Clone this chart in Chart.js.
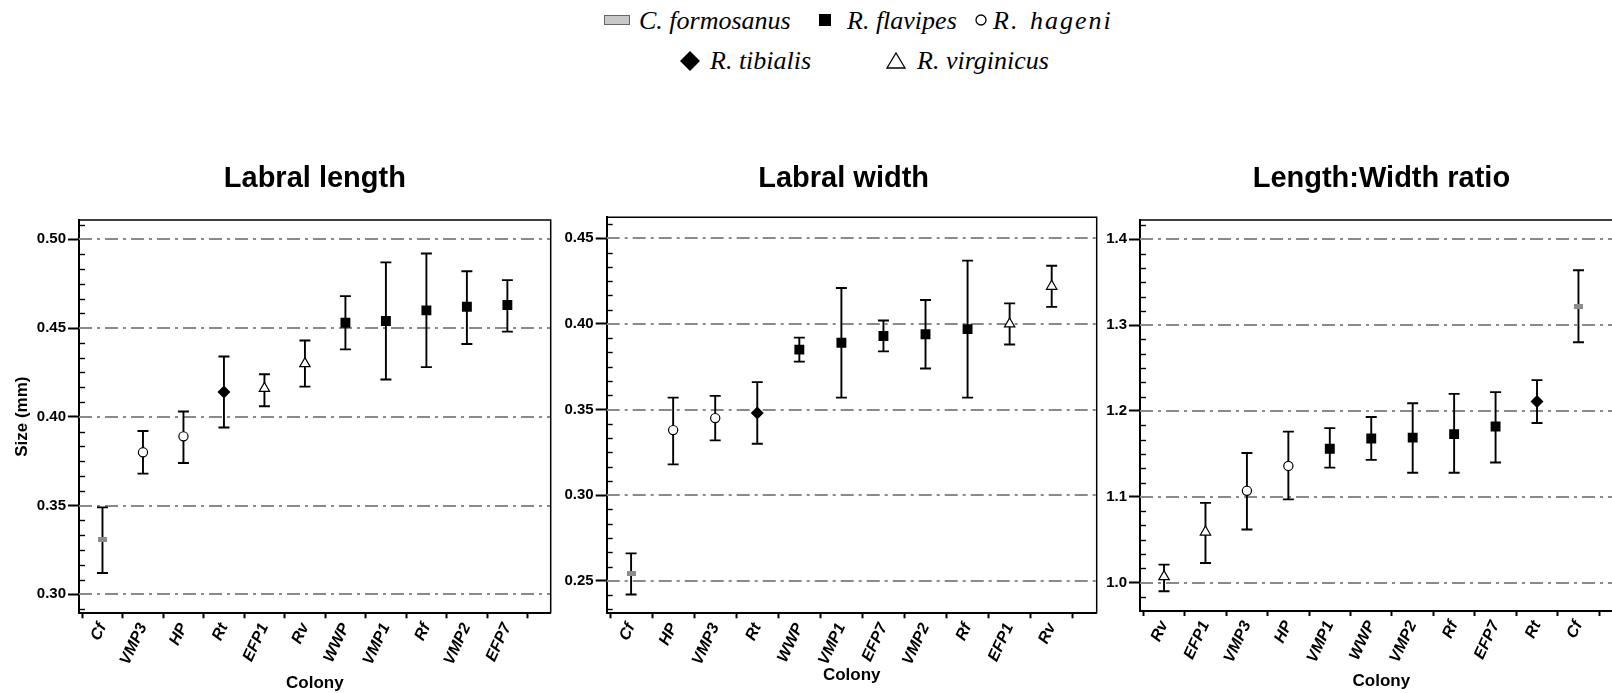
<!DOCTYPE html>
<html>
<head>
<meta charset="utf-8">
<script src="https://cdn.jsdelivr.net/npm/chart.js@4.4.1/dist/chart.umd.min.js"></script>
<style>
html,body{margin:0;padding:0;background:#fff;width:1612px;height:693px;overflow:hidden;position:relative}
canvas.panel{position:absolute;top:0}
.lg{position:absolute;font-family:"Liberation Serif","Times New Roman",serif;font-style:italic;font-size:26px;line-height:26px;white-space:nowrap;color:#000}
svg.sym{position:absolute;overflow:visible}
</style>
</head>
<body>
<svg class="sym" style="left:604px;top:15px" width="26" height="10"><rect x="0.5" y="0.5" width="25" height="9" fill="#c8c8c8" stroke="#666" stroke-width="1"/></svg>
<div class="lg" style="left:639px;top:8px">C. formosanus</div>
<svg class="sym" style="left:819px;top:14px" width="12" height="12"><rect x="0" y="0" width="12" height="12" fill="#000"/></svg>
<div class="lg" style="left:847px;top:8px">R. flavipes</div>
<svg class="sym" style="left:975px;top:14px" width="12" height="12"><circle cx="6" cy="6" r="5" fill="#fff" stroke="#000" stroke-width="1.3"/></svg>
<div class="lg" style="left:993px;top:8px;letter-spacing:2px;word-spacing:2px">R. hageni</div>
<svg class="sym" style="left:680px;top:51px" width="20" height="20"><polygon points="10,0 20,10 10,20 0,10" fill="#000"/></svg>
<div class="lg" style="left:710px;top:48px">R. tibialis</div>
<svg class="sym" style="left:886px;top:52px" width="20" height="17"><polygon points="10,1 19,16 1,16" fill="#fff" stroke="#000" stroke-width="1.3"/></svg>
<div class="lg" style="left:917px;top:48px">R. virginicus</div>

<canvas class="panel" id="c1" width="600" height="693" style="left:0px"></canvas>
<canvas class="panel" id="c2" width="560" height="693" style="left:560px"></canvas>
<canvas class="panel" id="c3" width="530" height="693" style="left:1100px"></canvas>

<script>
// ---------- data ----------
const speciesNames = ['C. formosanus', 'R. flavipes', 'R. hageni', 'R. tibialis', 'R. virginicus'];
const colonySpecies = {Cf: 0, Rf: 1, VMP1: 1, VMP2: 1, WWP: 1, EFP7: 1, HP: 2, VMP3: 2, Rt: 3, Rv: 4, EFP1: 4};

// Panel 1: Labral length
const colonies1 = ['Cf', 'VMP3', 'HP', 'Rt', 'EFP1', 'Rv', 'WWP', 'VMP1', 'Rf', 'VMP2', 'EFP7'];
const mean1 = [0.331, 0.380, 0.389, 0.414, 0.416, 0.430, 0.453, 0.454, 0.460, 0.462, 0.463];
const low1  = [0.312, 0.368, 0.374, 0.394, 0.406, 0.417, 0.438, 0.421, 0.428, 0.441, 0.448];
const high1 = [0.349, 0.392, 0.403, 0.434, 0.424, 0.443, 0.468, 0.487, 0.492, 0.482, 0.477];
const yTicks1 = [0.30, 0.35, 0.40, 0.45, 0.50];

// Panel 2: Labral width
const colonies2 = ['Cf', 'HP', 'VMP3', 'Rt', 'WWP', 'VMP1', 'EFP7', 'VMP2', 'Rf', 'EFP1', 'Rv'];
const mean2 = [0.254, 0.338, 0.345, 0.348, 0.385, 0.389, 0.393, 0.394, 0.397, 0.400, 0.422];
const low2  = [0.242, 0.318, 0.332, 0.330, 0.378, 0.357, 0.384, 0.374, 0.357, 0.388, 0.410];
const high2 = [0.266, 0.357, 0.358, 0.366, 0.392, 0.421, 0.402, 0.414, 0.437, 0.412, 0.434];
const yTicks2 = [0.25, 0.30, 0.35, 0.40, 0.45];

// Panel 3: Length:Width ratio
const colonies3 = ['Rv', 'EFP1', 'VMP3', 'HP', 'VMP1', 'WWP', 'VMP2', 'Rf', 'EFP7', 'Rt', 'Cf'];
const mean3 = [1.007, 1.059, 1.107, 1.136, 1.156, 1.168, 1.169, 1.173, 1.182, 1.211, 1.322];
const low3  = [0.990, 1.023, 1.062, 1.097, 1.134, 1.143, 1.128, 1.128, 1.140, 1.186, 1.280];
const high3 = [1.021, 1.093, 1.151, 1.176, 1.180, 1.193, 1.209, 1.220, 1.222, 1.236, 1.364];
const yTicks3 = [1.0, 1.1, 1.2, 1.3, 1.4];

// ---------- styling ----------
Chart.defaults.color = '#000';
Chart.defaults.font.family = "'Liberation Sans', Arial, sans-serif";

function grayRect() {
  const c = document.createElement('canvas');
  c.width = 9; c.height = 5;
  const g = c.getContext('2d');
  g.fillStyle = '#8c8c8c';
  g.fillRect(0, 0, 9, 5);
  return c;
}
const speciesStyle = [
  {pointStyle: grayRect(), pointRadius: 4, backgroundColor: '#8c8c8c', borderColor: '#8c8c8c', borderWidth: 0},
  {pointStyle: 'rect', pointRadius: 7, backgroundColor: '#000', borderColor: '#000', borderWidth: 0},
  {pointStyle: 'circle', pointRadius: 4.6, backgroundColor: '#fff', borderColor: '#000', borderWidth: 1.2},
  {pointStyle: 'rectRot', pointRadius: 6.5, backgroundColor: '#000', borderColor: '#000', borderWidth: 0},
  {pointStyle: 'triangle', pointRadius: 6, backgroundColor: '#fff', borderColor: '#000', borderWidth: 1.2}
];

function buildDatasets(cols, mean, low, high) {
  return speciesNames.map((name, s) => {
    const data = [];
    cols.forEach((c, i) => {
      if (colonySpecies[c] === s) data.push({x: i, y: mean[i], lo: low[i], hi: high[i]});
    });
    return Object.assign({label: name, data: data, showLine: false, pointHoverRadius: 0}, speciesStyle[s]);
  });
}

const panelPlugin = {
  id: 'panelDeco',
  beforeDatasetsDraw(chart) {
    const {ctx, chartArea: a, scales: {x, y}} = chart;
    ctx.save();
    // dash-dot grid at major ticks
    ctx.strokeStyle = '#8a8a8a';
    ctx.lineWidth = 2;
    ctx.setLineDash([13, 5, 3, 5]);
    y.ticks.forEach(t => {
      const py = Math.round(y.getPixelForValue(t.value));
      ctx.beginPath(); ctx.moveTo(a.left, py); ctx.lineTo(a.right, py); ctx.stroke();
    });
    ctx.setLineDash([]);
    // minor ticks inside the left axis
    const tv = y.ticks.map(t => t.value);
    const step = (tv[1] - tv[0]) / 6;
    ctx.strokeStyle = '#000';
    ctx.lineWidth = 1.4;
    for (let k = -6; k <= 6 * tv.length + 6; k++) {
      if (k % 6 === 0) continue;
      const v = tv[0] + k * step;
      if (v < y.min || v > y.max) continue;
      const py = Math.round(y.getPixelForValue(v)) + 0.5;
      ctx.beginPath(); ctx.moveTo(a.left, py); ctx.lineTo(a.left + 6, py); ctx.stroke();
    }
    // error bars
    ctx.strokeStyle = '#000';
    ctx.lineWidth = 1.9;
    chart.data.datasets.forEach(ds => ds.data.forEach(p => {
      const px = x.getPixelForValue(p.x);
      const y1 = y.getPixelForValue(p.lo);
      const y2 = y.getPixelForValue(p.hi);
      ctx.beginPath();
      ctx.moveTo(px, y1); ctx.lineTo(px, y2);
      ctx.moveTo(px - 5.5, y1); ctx.lineTo(px + 5.5, y1);
      ctx.moveTo(px - 5.5, y2); ctx.lineTo(px + 5.5, y2);
      ctx.stroke();
    }));
    ctx.restore();
  },
  afterDraw(chart) {
    const {ctx, chartArea: a} = chart;
    ctx.save();
    ctx.strokeStyle = '#000';
    ctx.lineWidth = 1.5;
    ctx.beginPath();
    ctx.moveTo(a.left, a.top); ctx.lineTo(a.right, a.top); ctx.lineTo(a.right, a.bottom);
    ctx.stroke();
    ctx.restore();
  }
};

function makePanel(id, p) {
  const cols = p.cols;
  const yScale = {
    type: 'linear', min: p.ymin, max: p.ymax,
    afterBuildTicks: s => { s.ticks = p.yticks.map(v => ({value: v})); },
    afterFit: s => { s.width = p.yw; },
    grid: {drawOnChartArea: false, drawTicks: true, tickLength: 11, tickWidth: 2, tickColor: '#000'},
    border: {display: true, color: '#000', width: 2},
    ticks: {padding: 2, font: {size: 15, weight: 'bold'}, color: '#000', callback: v => v.toFixed(p.dec)},
    title: p.ytitle ? {display: true, text: p.ytitle, font: {size: 17, weight: 'bold'}, color: '#000', padding: {top: 12, bottom: 0}} : {display: false}
  };
  const xScale = {
    type: 'linear', min: -0.58, max: 11.07,
    afterBuildTicks: s => {
      const t = [];
      for (let i = 0; i < cols.length; i++) { t.push({value: i - 0.5}); t.push({value: i}); }
      t.push({value: cols.length - 0.5});
      s.ticks = t;
    },
    afterFit: s => { s.height = p.xh; },
    grid: {drawOnChartArea: false, drawTicks: true, tickLength: 5, tickWidth: 2,
           tickColor: c => (c.tick && Number.isInteger(c.tick.value)) ? 'rgba(0,0,0,0)' : '#000'},
    border: {display: true, color: '#000', width: 2},
    ticks: {autoSkip: false, minRotation: 65, maxRotation: 65, padding: 2,
            font: {size: 16, weight: 'bold', style: 'italic'}, color: '#000',
            callback: v => Number.isInteger(v) ? cols[v] : ''},
    title: {display: true, text: 'Colony', font: {size: 17, weight: 'bold', lineHeight: 1}, color: '#000', padding: {top: 0, bottom: p.colPad}}
  };
  return new Chart(document.getElementById(id), {
    type: 'scatter',
    data: {datasets: buildDatasets(cols, p.mean, p.low, p.high)},
    options: {
      responsive: false, animation: false, events: [],
      layout: {padding: {left: 0, right: p.pr, top: 0, bottom: 0}},
      plugins: {
        legend: {display: false}, tooltip: {enabled: false},
        title: {display: true, text: p.title, fullSize: false, color: '#000',
                font: {size: 29, weight: 'bold'}, padding: {top: 162, bottom: p.tpb}}
      },
      scales: {x: xScale, y: yScale}
    },
    plugins: [panelPlugin]
  });
}

makePanel('c1', {cols: colonies1, mean: mean1, low: low1, high: high1, yticks: yTicks1, dec: 2,
  ymin: 0.2893, ymax: 0.5109, yw: 79, pr: 49.3, xh: 79.7, tpb: 23.2, colPad: 1.1,
  title: 'Labral length', ytitle: 'Size (mm)'});
makePanel('c2', {cols: colonies2, mean: mean2, low: low2, high: high2, yticks: yTicks2, dec: 2,
  ymin: 0.2310, ymax: 0.4623, yw: 46.7, pr: 23.3, xh: 79.7, tpb: 20.5, colPad: 9.1,
  title: 'Labral width  '});
makePanel('c3', {cols: colonies3, mean: mean3, low: low3, high: high3, yticks: yTicks3, dec: 1,
  ymin: 0.967, ymax: 1.4225, yw: 40, pr: 7, xh: 82, tpb: 23.2, colPad: 3.6,
  title: 'Length:Width ratio'});
</script>
</body>
</html>
